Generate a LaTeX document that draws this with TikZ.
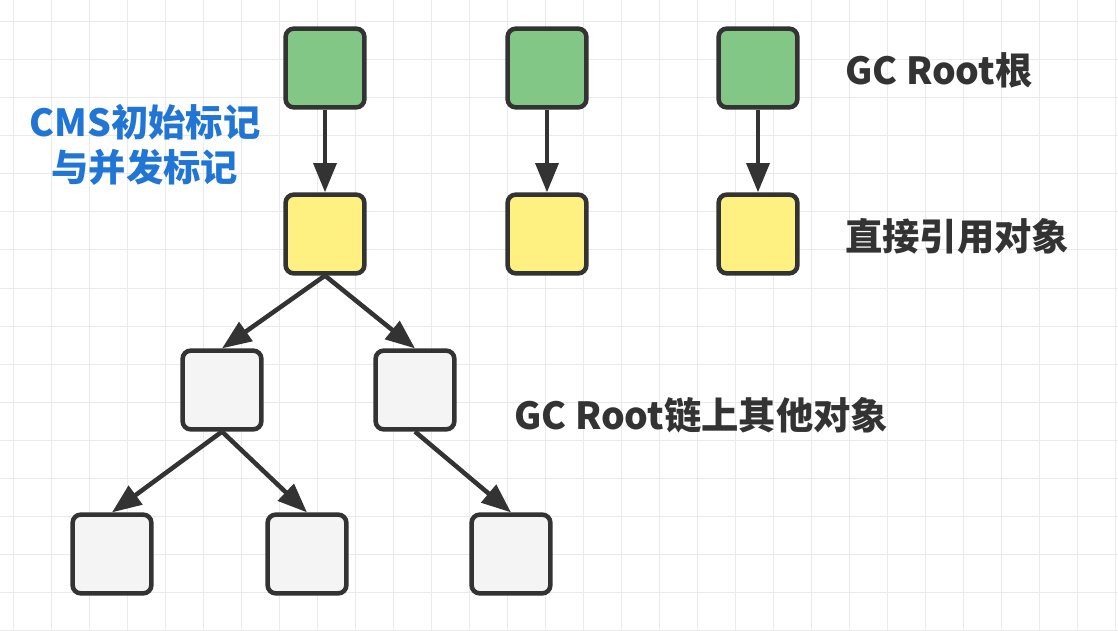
\documentclass[tikz,border=0pt]{standalone}
\usepackage{fontspec}
\setmainfont{Noto Sans CJK SC}
\usetikzlibrary{arrows.meta,positioning}
\definecolor{rootgreen}{RGB}{130,199,133}
\definecolor{refyellow}{RGB}{255,240,130}
\definecolor{objgray}{RGB}{244,244,244}
\definecolor{edgegray}{RGB}{51,51,51}
\definecolor{cmsblue}{RGB}{33,117,212}
\definecolor{gridline}{RGB}{234,234,234}

\begin{document}
\begin{tikzpicture}[x=0.75pt, y=-0.75pt,
    font=\fontsize{28}{34}\selectfont\bfseries,
    obj/.style={draw=edgegray, line width=3.4pt, rounded corners=6pt, minimum size=59pt, inner sep=0pt},
    ref/.style={-{Triangle[length=22pt,width=17pt]}, line width=3.4pt, draw=edgegray},
    note/.style={inner sep=0pt, anchor=west, text=edgegray}]
\useasboundingbox (0,0) rectangle (1118,631);
\fill[white] (0,0) rectangle (1118,631);
% background grid
\foreach \gx in {13,51,...,1118} \draw[gridline, line width=0.75pt] (\gx,0) -- (\gx,631);
\foreach \gy in {22,60,...,631} \draw[gridline, line width=0.75pt] (0,\gy) -- (1118,\gy);

% roots and directly referenced objects
\node[obj, fill=rootgreen] (root1) at (325,68) {};
\node[obj, fill=rootgreen] (root2) at (547,68) {};
\node[obj, fill=rootgreen] (root3) at (758,68) {};
\node[obj, fill=refyellow] (ref1) at (325,234) {};
\node[obj, fill=refyellow] (ref2) at (547,234) {};
\node[obj, fill=refyellow] (ref3) at (758,234) {};

% rest of the chain
\node[obj, fill=objgray] (obj1) at (222,390) {};
\node[obj, fill=objgray] (obj2) at (415,390) {};
\node[obj, fill=objgray] (leaf1) at (112,554) {};
\node[obj, fill=objgray] (leaf2) at (307,554) {};
\node[obj, fill=objgray] (leaf3) at (511,554) {};

\draw[ref] (root1) -- (ref1);
\draw[ref] (root2) -- (ref2);
\draw[ref] (root3) -- (ref3);
\draw[ref] (ref1.south) -- (obj1.north);
\draw[ref] (ref1.south) -- (obj2.north);
\draw[ref] (obj1.south) -- (leaf1.north);
\draw[ref] (obj1.south) -- (leaf2.north);
\draw[ref] (obj2.south) -- (leaf3.north);

% labels
\node[note] (rootlabel) at (845,70) {GC Root根};
\node[note] (reflabel) at (845,236) {直接引用对象};
\node[note] (chainlabel) at (514,415) {GC Root链上其他对象};
\node[inner sep=0pt, align=center, text=cmsblue] (cmslabel) at (145,145) {CMS初始标记\\与并发标记};
\end{tikzpicture}
\end{document}
